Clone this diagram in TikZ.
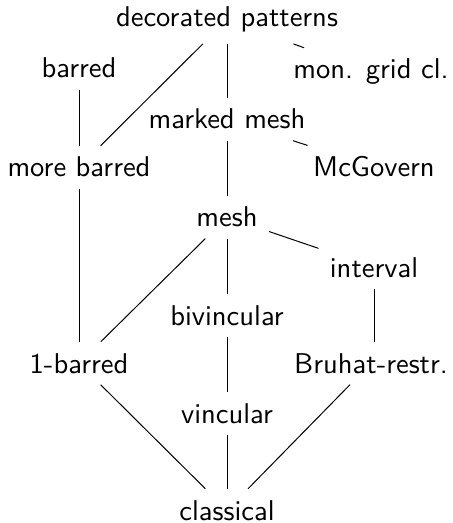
\documentclass[tikz,border=0pt]{standalone}
\usepackage{fontspec}
\setsansfont{lmsans10-regular.otf}
\begin{document}
\begin{tikzpicture}[x=0.5pt,y=-0.5pt,
  lab/.style={anchor=base,inner sep=5.5pt,font=\sffamily\fontsize{14.3}{17}\selectfont},
  link/.style={line width=0.5pt,black}]
\useasboundingbox (0,0) rectangle (452,523);
\node[lab] (dec) at (227,27) {decorated patterns};
\node[lab] (bar) at (79,78) {barred};
\node[lab] (mon) at (371,79) {mon. grid cl.};
\node[lab] (mm) at (227,129) {marked mesh};
\node[lab] (mb) at (79,177) {more barred};
\node[lab] (mcg) at (374,177) {McGovern};
\node[lab] (mesh) at (227,227) {mesh};
\node[lab] (int) at (374,277) {interval};
\node[lab] (biv) at (227,325) {bivincular};
\node[lab] (oneb) at (79,373) {1-barred};
\node[lab] (bru) at (371,373) {Bruhat-restr.};
\node[lab] (vin) at (227,423) {vincular};
\node[lab] (cla) at (227,520) {classical};
\draw[link] (dec) -- (mb);
\draw[link] (dec) -- (mm);
\draw[link] (dec) -- (mon);
\draw[link] (bar) -- (mb);
\draw[link] (mm) -- (mcg);
\draw[link] (mm) -- (mesh);
\draw[link] (mb) -- (oneb);
\draw[link] (mesh) -- (int);
\draw[link] (mesh) -- (oneb);
\draw[link] (mesh) -- (biv);
\draw[link] (int.south -| 374,0) -- (bru.north -| 374,0);
\draw[link] (biv) -- (vin);
\draw[link] (oneb) -- (cla);
\draw[link] (vin) -- (cla);
\draw[link] (bru) -- (cla);
\end{tikzpicture}
\end{document}
